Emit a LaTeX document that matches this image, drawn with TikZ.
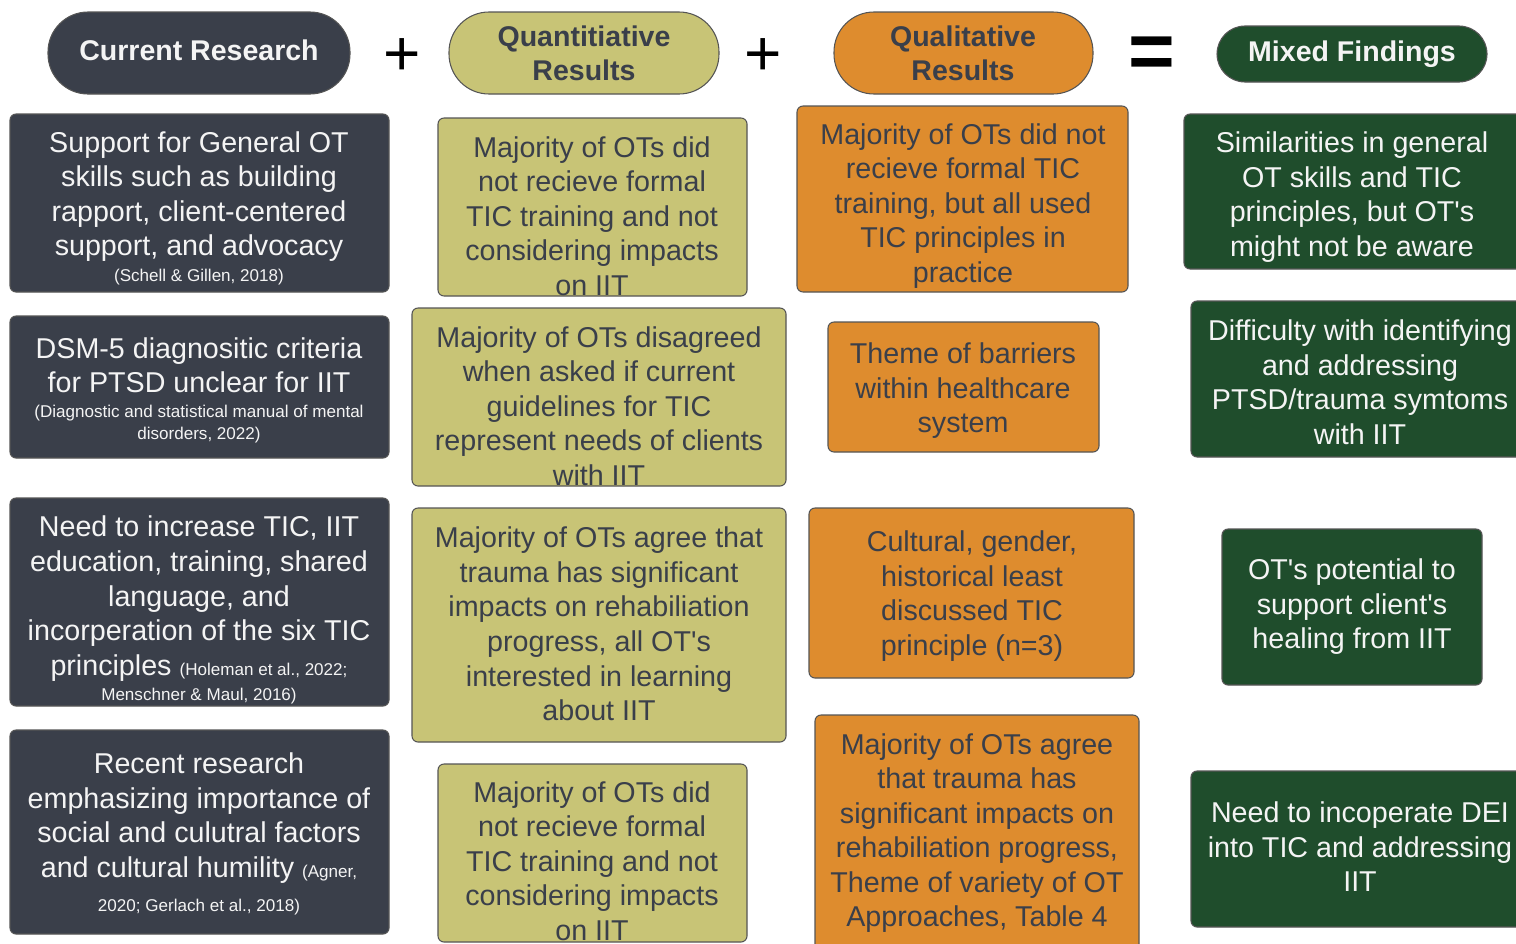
\documentclass[tikz,border=0pt]{standalone}
\usepackage{fontspec}
\setmainfont{Liberation Sans}
\usepackage{xcolor}
\usepackage{tikz}
\usetikzlibrary{positioning}

\definecolor{slate}{RGB}{58,63,74}
\definecolor{khaki}{RGB}{200,196,118}
\definecolor{amber}{RGB}{222,140,46}
\definecolor{forest}{RGB}{31,77,44}
\definecolor{edgegray}{RGB}{85,85,85}
\definecolor{paper}{RGB}{244,244,244}

\newcommand{\bodysize}{\fontsize{21.5}{25.9}\selectfont}
\newcommand{\refsize}{\fontsize{12.8}{15.5}\selectfont}
\newcommand{\headsize}{\fontsize{21.4}{25.5}\selectfont\bfseries}
\newcommand{\apos}{\textquotesingle}

\tikzset{
  card/.style={draw=edgegray, line width=0.8pt, rounded corners=4.5pt},
  pill/.style={draw=edgegray, line width=0.8pt, rounded corners=30pt},
  lighttext/.style={text=paper, font=\bodysize, align=center, inner sep=0pt},
  darktext/.style={text=slate, font=\bodysize, align=center, inner sep=0pt},
  headlight/.style={text=paper, font=\headsize, align=center, inner sep=0pt},
  headdark/.style={text=slate, font=\headsize, align=center, inner sep=0pt},
  sign/.style={text=black, inner sep=0pt, font=\fontsize{48}{48}\selectfont}
}

\begin{document}
\begin{tikzpicture}[x=0.75pt, y=-0.75pt]
    \useasboundingbox (0,0) rectangle (1516,943);

    % headers
    \draw[pill, fill=slate] (48,12) rectangle (350,94);
    \node[headlight] (hcur) at (199,50) {Current Research};
    \draw[pill, fill=khaki] (449,12) rectangle (719,94);
    \node[headdark] (hquan) at (584,53) {Quantitiative\\Results};
    \draw[pill, fill=amber] (834,12) rectangle (1093,94);
    \node[headdark] (hqual) at (963,53) {Qualitative\\Results};
    \draw[pill, fill=forest, rounded corners=21pt] (1217,26) rectangle (1487,82);
    \node[headlight] (hmix) at (1352,54) {Mixed Findings};

    \node[sign] (plusa) at (402,57) {+};
    \node[sign] (plusb) at (763,57) {+};
    \node[sign, font=\fontsize{60}{60}\selectfont\bfseries] (equal) at (1152,58) {=};

    % current research
    \draw[card, fill=slate] (10,114) rectangle (389,292);
    \node[lighttext] (cur1) at (199,208) {Support for General OT\\skills such as building\\rapport, client-centered\\support, and advocacy\\[-7pt]{\refsize (Schell \& Gillen, 2018)}};
    \draw[card, fill=slate] (10,316) rectangle (389,458);
    \node[lighttext] (cur2) at (199,390) {DSM-5 diagnositic criteria\\for PTSD unclear for IIT\\[-7pt]{\refsize (Diagnostic and statistical manual of mental}\\[-10pt]{\refsize disorders, 2022)}};
    \draw[card, fill=slate] (10,498) rectangle (389,706);
    \node[lighttext] (cur3) at (199,610) {Need to increase TIC, IIT\\education, training, shared\\language, and\\incorperation of the six TIC\\principles {\refsize (Holeman et al., 2022;}\\[-7pt]{\refsize Menschner \& Maul, 2016)}};
    \draw[card, fill=slate] (10,730) rectangle (389,934);
    \node[lighttext] (cur4) at (199,834) {Recent research\\emphasizing importance of\\social and culutral factors\\and cultural humility {\refsize (Agner,}\\{\refsize 2020; Gerlach et al., 2018)}};

    % quantitative
    \draw[card, fill=khaki] (438,118) rectangle (747,296);
    \node[darktext] (quan1) at (592,216) {Majority of OTs did\\not recieve formal\\TIC training and not\\considering impacts\\on IIT};
    \draw[card, fill=khaki] (412,308) rectangle (786,486);
    \node[darktext] (quan2) at (599,406) {Majority of OTs disagreed\\when asked if current\\guidelines for TIC\\represent needs of clients\\with IIT};
    \draw[card, fill=khaki] (412,508) rectangle (786,742);
    \node[darktext] (quan3) at (599,624) {Majority of OTs agree that\\trauma has significant\\impacts on rehabiliation\\progress, all OT\apos s\\interested in learning\\about IIT};
    \draw[card, fill=khaki] (438,764) rectangle (747,942);
    \node[darktext] (quan4) at (592,861) {Majority of OTs did\\not recieve formal\\TIC training and not\\considering impacts\\on IIT};

    % qualitative
    \draw[card, fill=amber] (797,106) rectangle (1128,292);
    \node[darktext] (qual1) at (963,206) {Majority of OTs did not\\recieve formal TIC\\training, but all used\\TIC principles in\\practice};
    \draw[card, fill=amber] (828,322) rectangle (1099,452);
    \node[darktext] (qual2) at (963,391) {Theme of barriers\\within healthcare\\system};
    \draw[card, fill=amber] (809,508) rectangle (1134,678);
    \node[darktext] (qual3) at (972,596) {Cultural, gender,\\historical least\\discussed TIC\\principle (n=3)};
    \draw[card, fill=amber] (815,715) rectangle (1139,950);
    \node[darktext] (qual4) at (977,833) {Majority of OTs agree\\that trauma has\\significant impacts on\\rehabiliation progress,\\Theme of variety of OT\\Approaches, Table 4};

    % mixed findings
    \draw[card, fill=forest] (1184,114) rectangle (1530,269);
    \node[lighttext] (mix1) at (1352,197) {Similarities in general\\OT skills and TIC\\principles, but OT\apos s\\might not be aware};
    \draw[card, fill=forest] (1191,301) rectangle (1530,457);
    \node[lighttext] (mix2) at (1360,382) {Difficulty with identifying\\and addressing\\PTSD/trauma symtoms\\with IIT};
    \draw[card, fill=forest] (1222,529) rectangle (1482,685);
    \node[lighttext] (mix3) at (1352,607) {OT\apos s potential to\\support client\apos s\\healing from IIT};
    \draw[card, fill=forest] (1191,771) rectangle (1530,927);
    \node[lighttext] (mix4) at (1360,847) {Need to incoperate DEI\\into TIC and addressing\\IIT};
\end{tikzpicture}
\end{document}
